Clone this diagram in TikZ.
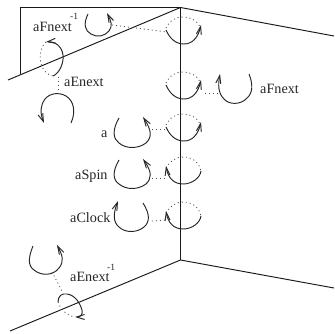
\documentclass[tikz,border=0pt]{standalone}
\usepackage{fontspec}
\setmainfont{Liberation Serif}
\usetikzlibrary{arrows.meta}
\tikzset{
  edge/.style={line width=0.95pt,black!90},
  loopline/.style={line width=0.95pt,black!85},
  looparrow/.style={loopline,-{Straight Barb[length=8pt,width=5pt]}},
  dots/.style={line width=0.8pt,black!70,dash pattern=on 1pt off 3pt},
  lab/.style={font=\fontsize{14.2}{16}\selectfont,inner sep=0pt,black!85},
  sup/.style={font=\fontsize{9.5}{10}\selectfont,inner sep=0pt,black!85}
}
\begin{document}
\begin{tikzpicture}[x=1pt,y=-1pt]
\useasboundingbox (0,0) rectangle (334,334);
% corners
\coordinate (T) at (180.5,7.5);
\coordinate (B) at (180.5,260);
\coordinate (TR) at (334,36);
\coordinate (BR) at (334,288);
\coordinate (TL) at (8,80);
\coordinate (BL) at (10,331);
\coordinate (F1) at (20.5,7.5);
\coordinate (F2) at (20.5,74);
\draw[edge] (T) -- (B);
\draw[edge] (T) -- (TR);
\draw[edge] (T) -- (TL);
\draw[edge] (B) -- (BR);
\draw[edge] (B) -- (BL);
\draw[edge] (F2) -- (F1) -- (T);
% loops on the vertical edge
\foreach \n/\y in {A/0,B/55,C/97}{
  \draw[dots] (166,{28+\y}) .. controls (170,{20+\y}) and (176,{17+\y}) .. (183,{17+\y}) .. controls (190,{17+\y}) and (197,{20+\y}) .. (200,{27+\y});
  \draw[looparrow] (166,{30+\y}) .. controls (170,{39+\y}) and (176,{44+\y}) .. (184,{44+\y}) .. controls (192,{44+\y}) and (198,{38+\y}) .. (201,{25+\y});
}
\foreach \n/\y in {D/140,E/185}{
  \draw[dots] (166,{28+\y}) .. controls (170,{21+\y}) and (176,{17+\y}) .. (183,{17+\y}) .. controls (192,{17+\y}) and (199,{22+\y}) .. (201,{31+\y});
  \draw[looparrow] (201,{31+\y}) .. controls (200,{38+\y}) and (192,{44+\y}) .. (183,{44+\y}) .. controls (174,{44+\y}) and (168,{38+\y}) .. (166,{26+\y});
}
% free loops
\draw[loopline] (249,74) .. controls (253,84) and (253,93) .. (247,98) .. controls (241,105) and (229,105) .. (224,99);
\draw[looparrow] (224,99) .. controls (218,93) and (218,85) .. (220,74);
\draw[loopline] (119,118) .. controls (112,130) and (113,139) .. (119,143) .. controls (126,149) and (138,149) .. (146,143);
\draw[looparrow] (146,143) .. controls (152,137) and (152,131) .. (143,117);
\draw[loopline] (119,160) .. controls (112,172) and (113,180) .. (119,184) .. controls (126,190) and (138,190) .. (146,184);
\draw[looparrow] (146,184) .. controls (152,178) and (152,172) .. (143,159);
\draw[looparrow] (143,203) .. controls (150,214) and (150,222) .. (144,227) .. controls (137,233) and (125,233) .. (119,227) .. controls (113,222) and (113,214) .. (118,201);
\draw[loopline] (88,14) .. controls (83,24) and (85,31) .. (91,34) .. controls (97,38) and (105,36) .. (109,31);
\draw[looparrow] (109,31) .. controls (113,26) and (111,21) .. (107,13);
\draw[loopline] (71,123) .. controls (76,112) and (74,101) .. (66,96) .. controls (59,92) and (50,93) .. (45,99);
\draw[looparrow] (45,99) .. controls (40,106) and (40,113) .. (44,123);
\draw[looparrow] (53,76) .. controls (60,73) and (64,62) .. (63,55) .. controls (62,46) and (54,41) .. (46,42);
\draw[dots] (46,42) .. controls (41,46) and (39,56) .. (41,64) .. controls (43,70) and (47,75) .. (53,76);
\draw[loopline] (33,246) .. controls (28,258) and (28,266) .. (34,270) .. controls (41,276) and (53,276) .. (59,268);
\draw[looparrow] (59,268) .. controls (64,262) and (63,256) .. (57,245);
\draw[looparrow] (58,302) .. controls (58,296) and (62,293) .. (67,294) .. controls (75,295) and (80,303) .. (82,310) .. controls (83,314) and (81,317) .. (75,317);
\draw[dots] (58,302) .. controls (60,308) and (65,315) .. (75,317);
% dotted connectors
\coordinate (c1a) at (112,25); \coordinate (c1b) at (167,32);
\coordinate (c2a) at (205,93); \coordinate (c2b) at (219,93);
\coordinate (c3a) at (152,129); \coordinate (c3b) at (166,129);
\coordinate (c4a) at (152,178); \coordinate (c4b) at (165,178);
\coordinate (c5a) at (152,221); \coordinate (c5b) at (166,220);
\coordinate (c6a) at (58,77); \coordinate (c6b) at (58,94);
\coordinate (c7a) at (52,272); \coordinate (c7b) at (63,293);
\foreach \p/\q in {c1a/c1b,c2a/c2b,c3a/c3b,c4a/c4b,c5a/c5b,c6a/c6b,c7a/c7b}
  \draw[dots] (\p) -- (\q);
% labels
\node[lab,anchor=base west] (l1) at (33,32) {aFnext};
\node[sup,anchor=base west] (s1) at (70,20) {-1};
\node[lab,anchor=base west] (l2) at (64,87) {aEnext};
\node[lab,anchor=base west] (l3) at (260,93) {aFnext};
\node[lab,anchor=base west] (l4) at (101,137) {a};
\node[lab,anchor=base west] (l5) at (75,179) {aSpin};
\node[lab,anchor=base west] (l6) at (70,222) {aClock};
\node[lab,anchor=base west] (l7) at (70,281) {aEnext};
\node[sup,anchor=base west] (s2) at (107,270) {-1};
\end{tikzpicture}
\end{document}
